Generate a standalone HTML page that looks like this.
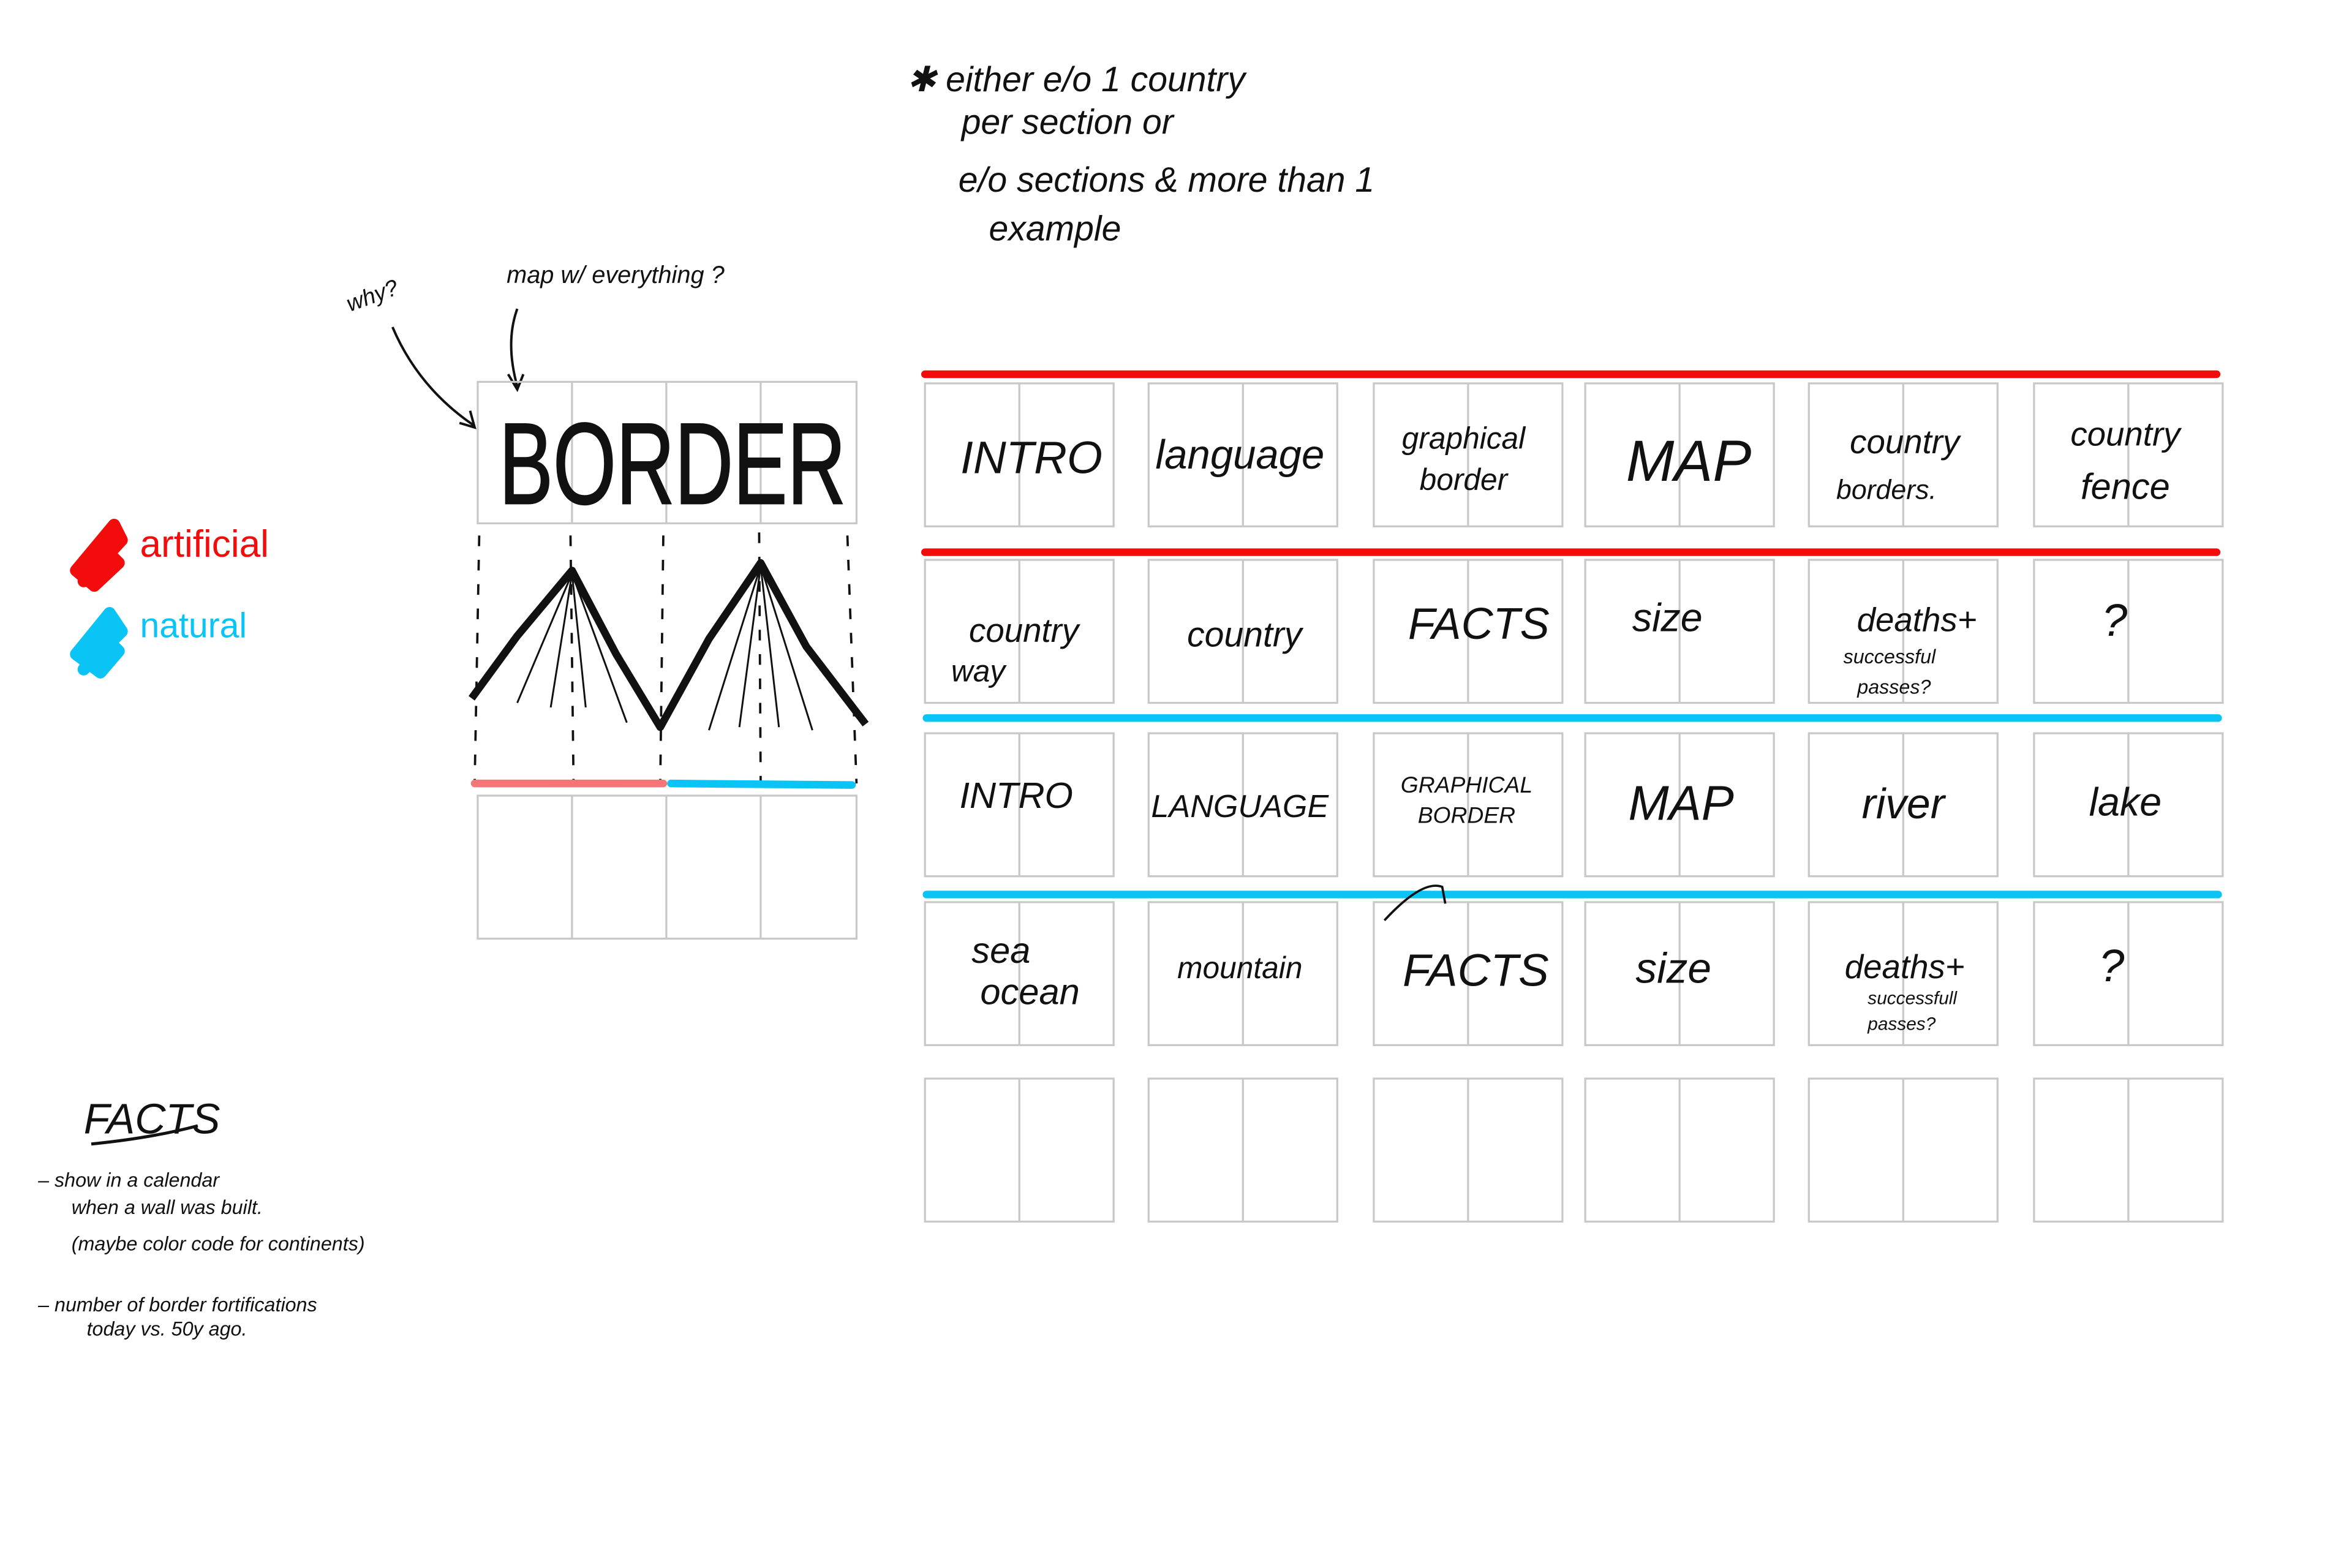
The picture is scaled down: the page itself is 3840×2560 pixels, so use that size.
<!DOCTYPE html>
<html><head><meta charset="utf-8"><style>
html,body{margin:0;padding:0;background:#fff;}
svg{display:block}
text{font-family:"Liberation Sans",sans-serif;fill:#111}
</style></head><body>
<svg width="3840" height="2560" viewBox="0 0 1546 1030.7" preserveAspectRatio="none" xmlns="http://www.w3.org/2000/svg">
<defs>
<g id="row">
<rect x="608" y="0" width="124" height="94"/><line x1="670" y1="0" x2="670" y2="94"/>
<rect x="755" y="0" width="124" height="94"/><line x1="817" y1="0" x2="817" y2="94"/>
<rect x="903" y="0" width="124" height="94"/><line x1="965" y1="0" x2="965" y2="94"/>
<rect x="1042" y="0" width="124" height="94"/><line x1="1104" y1="0" x2="1104" y2="94"/>
<rect x="1189" y="0" width="124" height="94"/><line x1="1251" y1="0" x2="1251" y2="94"/>
<rect x="1337" y="0" width="124" height="94"/><line x1="1399" y1="0" x2="1399" y2="94"/>
</g>
</defs>
<rect width="1546" height="1031" fill="#fff"/>
<!-- top note -->
<g font-size="23" font-style="italic">
<text x="596" y="60">✱ either e/o 1 country</text>
<text x="632" y="88">per section or</text>
<text x="630" y="126">e/o sections &amp; more than 1</text>
<text x="650" y="158">example</text>
</g>
<!-- why / map -->
<text x="230" y="205" font-size="15" font-style="italic" transform="rotate(-20 230 205)">why?</text>
<text x="333" y="186" font-size="16" font-style="italic">map w/ everything ?</text>
<path d="M258 215 Q275 255 312 280 M302 278 L312 281 L309 270" fill="none" stroke="#111" stroke-width="1.6"/>
<path d="M340 203 Q332 225 340 254 M334 246 L340 256 L344 246" fill="none" stroke="#111" stroke-width="1.6"/>
<!-- legend -->
<path d="M50 375 L75 345 L80 355 L55 382 L70 362 L78 370 L62 385 Z" fill="#f20c0c" stroke="#f20c0c" stroke-width="8" stroke-linejoin="round"/>
<text x="92" y="366" font-size="25" style="fill:#f20c0c">artificial</text>
<path d="M50 430 L72 403 L80 415 L55 440 L70 420 L78 428 L66 442 Z" fill="#0ac4f5" stroke="#0ac4f5" stroke-width="8" stroke-linejoin="round"/>
<text x="92" y="419" font-size="23" style="fill:#0ac4f5">natural</text>
<!-- BORDER box -->
<g fill="none" stroke="#c8c8c8" stroke-width="1.3">
<rect x="314" y="251" width="249" height="93"/>
<line x1="376" y1="251" x2="376" y2="344"/><line x1="438" y1="251" x2="438" y2="344"/><line x1="500" y1="251" x2="500" y2="344"/>
<rect x="314" y="523" width="249" height="94"/>
<line x1="376" y1="523" x2="376" y2="617"/><line x1="438" y1="523" x2="438" y2="617"/><line x1="500" y1="523" x2="500" y2="617"/>
</g>
<text x="328" y="331" font-size="76" textLength="228" lengthAdjust="spacingAndGlyphs" style="stroke:#111;stroke-width:1">BORDER</text>
<!-- zigzag -->
<g stroke="#111" fill="none">
<g stroke-width="1.5" stroke-dasharray="7 9">
<line x1="315" y1="352" x2="312" y2="515"/><line x1="375" y1="352" x2="377" y2="515"/><line x1="436" y1="352" x2="434" y2="515"/><line x1="499" y1="350" x2="500" y2="515"/><line x1="557" y1="352" x2="563" y2="515"/>
</g>
<polyline points="310,459 340,418 376,375 405,430 434,478 466,420 500,370 530,425 569,476" stroke-width="5" stroke-linejoin="round"/>
<g stroke-width="1.2">
<path d="M376 377 L340 462 M376 377 L362 465 M376 377 L385 465 M376 377 L412 475"/>
<path d="M500 372 L466 480 M500 372 L486 478 M500 372 L512 478 M500 372 L534 480"/>
</g>
</g>
<line x1="312" y1="515" x2="436" y2="515" stroke="#f47676" stroke-width="5" stroke-linecap="round"/>
<line x1="441" y1="515" x2="560" y2="516" stroke="#0ac4f5" stroke-width="5" stroke-linecap="round"/>
<!-- FACTS notes -->
<text x="55" y="745" font-size="28" font-style="italic">FACTS</text>
<path d="M60 752 Q100 748 130 740" stroke="#111" stroke-width="2" fill="none"/>
<g font-size="13" font-style="italic">
<text x="25" y="780">–  show in a calendar</text>
<text x="47" y="798">when a wall was built.</text>
<text x="47" y="822">(maybe color code for continents)</text>
<text x="25" y="862">–  number of border fortifications</text>
<text x="57" y="878">today vs. 50y ago.</text>
</g>
<!-- grid lines -->
<g stroke-linecap="round" stroke-width="5">
<line x1="608" y1="246" x2="1457" y2="246" stroke="#f20c0c"/>
<line x1="608" y1="363" x2="1457" y2="363" stroke="#f20c0c"/>
<line x1="609" y1="472" x2="1458" y2="472" stroke="#0ac4f5"/>
<line x1="609" y1="588" x2="1458" y2="588" stroke="#0ac4f5"/>
</g>
<g fill="none" stroke="#c8c8c8" stroke-width="1.3">
<use href="#row" y="252"/><use href="#row" y="368"/><use href="#row" y="482"/><use href="#row" y="593"/><use href="#row" y="709"/>
</g>
<path d="M910 605 Q935 578 948 583 L950 594" stroke="#111" stroke-width="1.5" fill="none"/>
<!-- labels -->
<g text-anchor="middle" font-style="italic">
<text x="678" y="311" font-size="30">INTRO</text>
<text x="815" y="308" font-size="27">language</text>
<text x="962" y="295" font-size="20">graphical</text>
<text x="962" y="322" font-size="20">border</text>
<text x="1110" y="316" font-size="38">MAP</text>
<text x="1252" y="298" font-size="22">country</text>
<text x="1240" y="328" font-size="18">borders.</text>
<text x="1397" y="293" font-size="22">country</text>
<text x="1397" y="328" font-size="24">fence</text>

<text x="673" y="422" font-size="22">country</text>
<text x="643" y="448" font-size="20">way</text>
<text x="818" y="425" font-size="23">country</text>
<text x="972" y="420" font-size="29">FACTS</text>
<text x="1096" y="415" font-size="26">size</text>
<text x="1260" y="415" font-size="22">deaths+</text>
<text x="1242" y="436" font-size="13">successful</text>
<text x="1245" y="456" font-size="13">passes?</text>
<text x="1390" y="418" font-size="30">?</text>

<text x="668" y="531" font-size="24">INTRO</text>
<text x="815" y="537" font-size="21">LANGUAGE</text>
<text x="964" y="521" font-size="15">GRAPHICAL</text>
<text x="964" y="541" font-size="15">BORDER</text>
<text x="1105" y="539" font-size="32">MAP</text>
<text x="1251" y="538" font-size="28">river</text>
<text x="1397" y="536" font-size="26">lake</text>

<text x="658" y="633" font-size="24">sea</text>
<text x="677" y="660" font-size="24">ocean</text>
<text x="815" y="643" font-size="20">mountain</text>
<text x="970" y="648" font-size="30">FACTS</text>
<text x="1100" y="646" font-size="28">size</text>
<text x="1252" y="643" font-size="22">deaths+</text>
<text x="1257" y="660" font-size="12">successfull</text>
<text x="1250" y="677" font-size="12">passes?</text>
<text x="1388" y="645" font-size="30">?</text>
</g>
</svg>
</body></html>
